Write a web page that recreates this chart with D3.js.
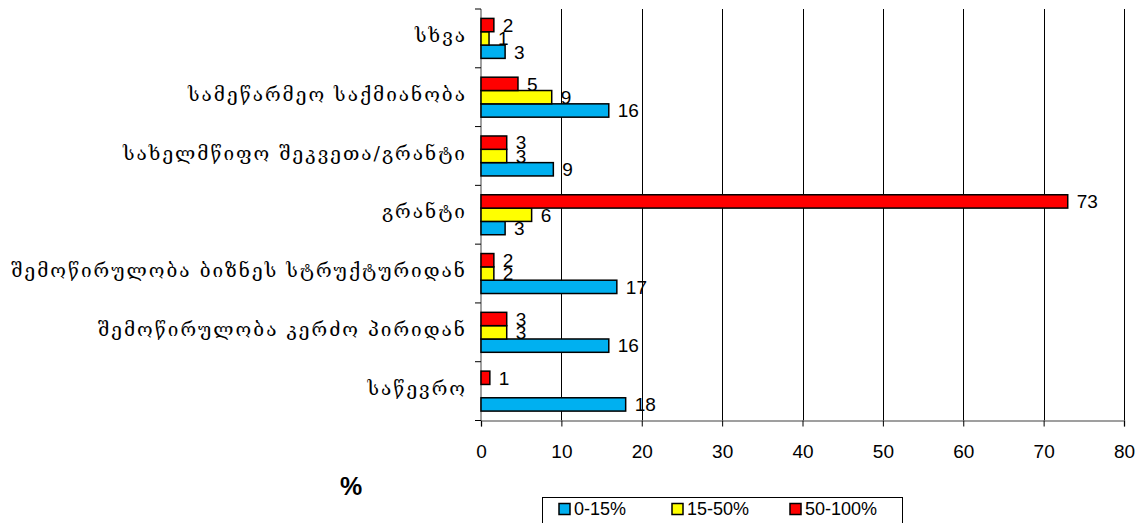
<!DOCTYPE html>
<html><head><meta charset="utf-8">
<script src="https://cdn.jsdelivr.net/npm/d3@7"></script>
<style>html,body{margin:0;padding:0;background:#fff;}svg{display:block;}</style>
</head><body>
<svg id="chart" width="1144" height="523"></svg>
<script>
const categories = ["სხვა","სამეწარმეო საქმიანობა","სახელმწიფო შეკვეთა/გრანტი","გრანტი","შემოწირულობა ბიზნეს სტრუქტურიდან","შემოწირულობა კერძო პირიდან","საწევრო"];
const seriesNames = ["0-15%","15-50%","50-100%"];
const seriesColors = ["#00B0F0","#FFFF00","#FF0000"];
const low = [3, 15.9, 9, 3, 16.9, 15.9, 18];
const mid = [1, 8.8, 3.2, 6.3, 1.6, 3.2, null];
const high = [1.6, 4.6, 3.2, 73, 1.6, 3.2, 1.1];
const xTicks = [0,10,20,30,40,50,60,70,80];

(function(){
const seriesValues = [low, mid, high];
const svg = d3.select("#chart");
const pL = 481, pR = 1124, pT = 9, pB = 420.5;
const x = d3.scaleLinear().domain([0,80]).range([pL,pR]);
const y = d3.scaleBand().domain(categories).range([pT,pB]).paddingInner(0.32).paddingOuter(0.16);
const sub = d3.scaleBand().domain(["50-100%","15-50%","0-15%"]).range([0,y.bandwidth()]);
const step = y.step();

svg.append("g").selectAll("line").data(xTicks.filter(d=>d>0)).join("line")
  .attr("x1",d=>Math.round(x(d))+0.5).attr("x2",d=>Math.round(x(d))+0.5)
  .attr("y1",pT).attr("y2",pB).attr("stroke","#000").attr("stroke-width",1);

const xa = svg.append("g").attr("transform",`translate(0,${pB})`)
  .call(d3.axisBottom(x).tickValues(xTicks).tickSize(6).tickPadding(18));
xa.select(".domain").attr("stroke","#808080").attr("stroke-width",1.5);
xa.selectAll(".tick line").attr("stroke","#000");
xa.selectAll("text").attr("font-family","Arial, 'Liberation Sans', sans-serif").attr("font-size",19).attr("fill","#000");

svg.append("line").attr("x1",pL).attr("x2",pL).attr("y1",pT).attr("y2",pB)
  .attr("stroke","#808080").attr("stroke-width",1.5);
const bounds = categories.map(c=>y(c)-step*0.16).concat([pB]);
svg.append("g").selectAll("line").data(bounds).join("line")
  .attr("x1",pL-6).attr("x2",pL).attr("y1",d=>d).attr("y2",d=>d)
  .attr("stroke","#000").attr("stroke-width",1);

svg.append("g").selectAll("text").data(categories).join("text")
  .attr("x",467).attr("y",d=>y(d)+y.bandwidth()/2-3).attr("dy","0.35em")
  .attr("text-anchor","end").attr("font-family","'DejaVu Serif', 'DejaVu Sans', serif").attr("font-size",19)
  .attr("letter-spacing","2px")
  .attr("fill","#000").text(d=>d);

seriesNames.forEach((s,si)=>{
  const g = svg.append("g");
  const data = categories.map((c,i)=>({c, v:seriesValues[si][i]})).filter(d=>d.v!=null);
  g.selectAll("rect").data(data).join("rect")
    .attr("x",x(0)).attr("y",d=>y(d.c)+sub(s))
    .attr("width",d=>x(d.v)-x(0)).attr("height",sub.bandwidth())
    .attr("fill",seriesColors[si]).attr("stroke","#000").attr("stroke-width",1.5);
  g.selectAll("text").data(data).join("text")
    .attr("x",d=>x(d.v)+9).attr("y",d=>y(d.c)+sub(s)+sub.bandwidth()/2).attr("dy","0.36em")
    .attr("font-family","Arial, 'Liberation Sans', sans-serif").attr("font-size",19).attr("fill","#000")
    .text(d=>Math.round(d.v));
});

svg.append("text").attr("x",340).attr("y",495).attr("font-family","Arial, 'Liberation Sans', sans-serif")
  .attr("font-weight","bold").attr("font-size",25).text("%");

const lg = svg.append("g");
lg.append("rect").attr("x",542.5).attr("y",497.5).attr("width",360).attr("height",30)
  .attr("fill","#fff").attr("stroke","#000").attr("stroke-width",1);
const legX = [559, 672, 790];
seriesNames.forEach((s,i)=>{
  lg.append("rect").attr("x",legX[i]).attr("y",503.5).attr("width",11).attr("height",11)
    .attr("fill",seriesColors[i]).attr("stroke","#000").attr("stroke-width",1.5);
  lg.append("text").attr("x",legX[i]+15).attr("y",509).attr("dy","0.36em")
    .attr("font-family","Arial, 'Liberation Sans', sans-serif").attr("font-size",18).text(s);
});
})();
</script>
</body></html>
